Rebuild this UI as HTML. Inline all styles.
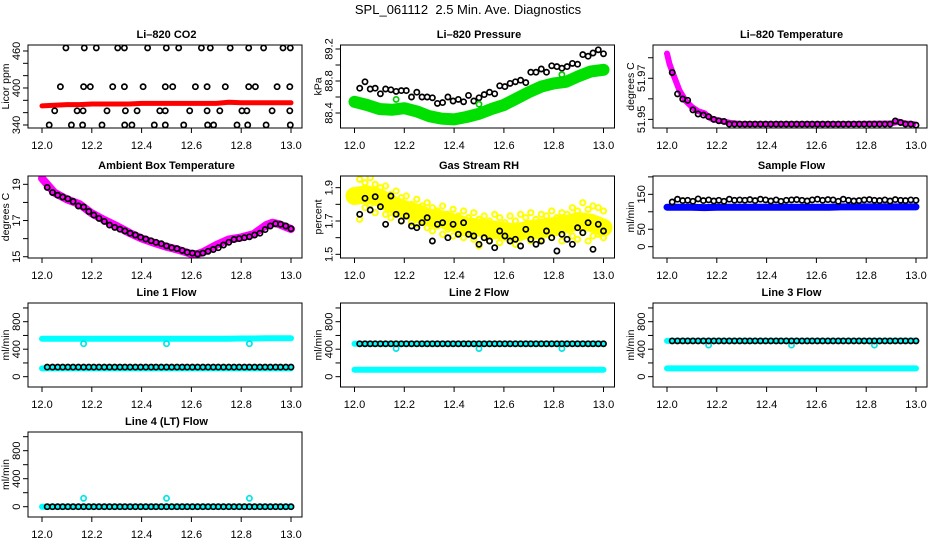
<!DOCTYPE html>
<html><head><meta charset="utf-8"><style>
html,body{margin:0;padding:0;background:#fff;}
svg text{font-family:"Liberation Sans",sans-serif;}
</style></head><body>
<svg id="chart" width="936" height="540" viewBox="0 0 936 540" xmlns="http://www.w3.org/2000/svg">
<rect width="936" height="540" fill="#fff"/>
<text x="468" y="14" font-size="13" text-anchor="middle" style="white-space:pre">SPL_061112  2.5 Min. Ave. Diagnostics</text>
</svg>
<script>
// shared time categories
const T = [12.021,12.042,12.063,12.083,12.104,12.125,12.146,12.167,12.188,12.208,12.229,12.25,12.271,12.292,12.313,12.333,12.354,12.375,12.396,12.417,12.438,12.458,12.479,12.5,12.521,12.542,12.563,12.583,12.604,12.625,12.646,12.667,12.688,12.708,12.729,12.75,12.771,12.792,12.813,12.833,12.854,12.875,12.896,12.917,12.938,12.958,12.979,13.0];
const TB = [12.0,12.05,12.1,12.15,12.2,12.25,12.3,12.35,12.4,12.45,12.5,12.55,12.6,12.65,12.7,12.75,12.8,12.85,12.9,12.95,13.0];
const xTicks = [12.0,12.2,12.4,12.6,12.8,13.0];
const xTickLabels = ["12.0","12.2","12.4","12.6","12.8","13.0"];
const outT = [12.167,12.5,12.833];

// CO2
const co2T = [12.096,12.17,12.218,12.304,12.331,12.424,12.499,12.549,12.64,12.676,12.756,12.83,12.89,12.968,12.997,
12.074,12.167,12.194,12.284,12.331,12.406,12.495,12.525,12.616,12.663,12.736,12.83,12.857,12.944,12.995,
12.051,12.141,12.165,12.261,12.335,12.382,12.473,12.495,12.593,12.663,12.714,12.803,12.823,12.924,12.995,
12.029,12.118,12.163,12.241,12.332,12.361,12.451,12.495,12.569,12.665,12.689,12.783,12.826,12.9,12.997];
const co2V = [465,465,465,465,465,465,465,465,465,465,465,465,465,465,465,
402,402,402,402,402,402,402,402,402,402,402,402,402,402,402,
363,363,363,363,363,363,363,363,363,363,363,363,363,363,363,
340,340,340,340,340,340,340,340,340,340,340,340,340,340,340];
const co2Red = [371,372,373,373,374,374,374,374,375,375,375,375,375,375,375,377,376,376,376,376,376];

// Pressure
const presGreen = [88.54,88.50,88.45,88.44,88.46,88.42,88.36,88.33,88.32,88.35,88.39,88.45,88.50,88.58,88.66,88.73,88.77,88.79,88.86,88.92,88.94];
const presBlack = [88.71,88.79,88.70,88.71,88.64,88.70,88.69,88.67,88.68,88.68,88.6,88.66,88.6,88.6,88.59,88.52,88.53,88.6,88.55,88.57,88.54,88.62,88.55,88.59,88.63,88.66,88.64,88.74,88.73,88.77,88.79,88.81,88.78,88.91,88.91,88.95,88.91,88.99,88.98,88.96,88.98,89.02,89.01,89.13,89.11,89.15,89.19,89.14];
const presOut = [88.57,88.51,88.88];

// Li-820 temperature
const tempMT = [12.0,12.01,12.025,12.05,12.075,12.1,12.125,12.15,12.175,12.2,12.25,12.3,12.5,12.7,12.9,12.93,12.96,12.99];
const tempMV = [51.982,51.977,51.972,51.964,51.959,51.956,51.954,51.953,51.9505,51.9497,51.9484,51.9477,51.9477,51.9477,51.948,51.9489,51.948,51.9477];
const tempBlack = [51.9728,51.9624,51.9599,51.9593,51.9546,51.9526,51.9521,51.9513,51.95,51.9493,51.949,51.9477,51.9477,51.9477,51.9477,51.9477,51.9477,51.9477,51.9477,51.9477,51.9477,51.9477,51.9477,51.9477,51.9477,51.9477,51.9477,51.9477,51.9477,51.9477,51.9477,51.9477,51.9477,51.9477,51.9477,51.9477,51.9477,51.9477,51.9477,51.9477,51.9477,51.9477,51.9477,51.9492,51.9485,51.9477,51.9477,51.9472];

// Ambient
const ambT = [12.0,12.05,12.1,12.15,12.2,12.25,12.3,12.35,12.4,12.45,12.5,12.55,12.6,12.625,12.65,12.7,12.75,12.8,12.85,12.9,12.925,12.95,13.0];
const ambV = [19.33,18.54,18.17,17.91,17.4,17.03,16.7,16.33,16.01,15.77,15.55,15.37,15.15,15.15,15.28,15.65,15.96,16.07,16.25,16.75,16.88,16.81,16.53];
const ambBlack = [18.83,18.55,18.4,18.3,18.2,18.05,17.8,17.75,17.5,17.3,17.12,16.95,16.75,16.62,16.52,16.42,16.3,16.2,16.08,15.98,15.88,15.8,15.72,15.6,15.5,15.45,15.35,15.25,15.2,15.15,15.2,15.3,15.4,15.5,15.65,15.8,15.95,16.0,16.05,16.1,16.2,16.3,16.5,16.7,16.82,16.8,16.7,16.55];

// RH
const rhYellow = [1.85,1.86,1.84,1.80,1.77,1.75,1.72,1.71,1.69,1.67,1.66,1.65,1.64,1.63,1.65,1.66,1.67,1.68,1.70,1.69,1.66];
const rhYellowHi = [1.95,1.93,1.96,1.92,1.90,1.91,1.86,1.88,1.84,1.85,1.80,1.83,1.79,1.81,1.78,1.76,1.79,1.74,1.77,1.73,1.76,1.72,1.75,1.71,1.73,1.70,1.74,1.72,1.69,1.73,1.70,1.74,1.72,1.75,1.71,1.74,1.73,1.76,1.72,1.75,1.74,1.78,1.76,1.81,1.77,1.79,1.78,1.76];
const rhYellowLo = [1.71,1.78,1.80,1.75,1.79,1.74,1.72,1.76,1.70,1.73,1.69,1.68,1.70,1.66,1.64,1.67,1.62,1.65,1.61,1.63,1.60,1.64,1.59,1.55,1.60,1.58,1.61,1.57,1.60,1.58,1.56,1.60,1.62,1.58,1.61,1.59,1.62,1.60,1.63,1.58,1.62,1.61,1.59,1.63,1.58,1.61,1.62,1.60];
const rhBlack = [1.74,1.836,1.766,1.846,1.786,1.68,1.85,1.74,1.70,1.73,1.67,1.66,1.69,1.72,1.58,1.68,1.69,1.60,1.68,1.62,1.69,1.62,1.61,1.56,1.60,1.58,1.54,1.64,1.61,1.58,1.59,1.55,1.65,1.59,1.56,1.58,1.64,1.60,1.52,1.62,1.59,1.56,1.66,1.63,1.69,1.53,1.68,1.64];

// Sample flow
const sfBlue = [113,113,113,112,113,113,113,113,113,113,113,113,113,113,114,114,114,114,114,114,114];
const sfBlack = [128,136,132,133,130,137,132,134,131,133,130,136,133,134,133,135,132,136,134,131,134,130,133,134,135,133,131,134,136,133,135,134,130,136,133,131,132,134,135,133,132,134,131,135,133,132,134,133];

// Line flows
const l1Hi = [552,552,552,552,552,552,552,552,552,552,552,552,552,552,552,552,555,555,558,558,558];
const l1Lo = [120,120,120,120,120,120,120,120,120,120,120,120,120,120,120,120,120,120,120,120,120];
const l1Black = [140,140,140,140,140,140,140,140,140,140,140,140,140,140,140,140,140,140,140,140,140,140,140,140,140,140,140,140,140,140,140,140,140,140,140,140,140,140,140,140,140,140,140,140,140,140,140,140];
const l1Out = [480,480,480];
const l2Hi = [478,478,478,478,478,478,478,478,478,478,478,478,478,478,478,478,478,478,478,478,478];
const l2Lo = [100,100,100,100,100,100,100,100,100,100,100,100,100,100,100,100,100,100,100,100,100];
const l2Black = [478,478,478,478,478,478,478,478,478,478,478,478,478,478,478,478,478,478,478,478,478,478,478,478,478,478,478,478,478,478,478,478,478,478,478,478,478,478,478,478,478,478,478,478,478,478,478,478];
const l2Out = [410,410,410];
const l3Hi = [520,520,520,520,520,520,520,520,520,520,520,520,520,520,520,520,520,520,522,522,522];
const l3Lo = [120,120,120,120,120,120,120,120,120,120,120,120,120,120,120,120,120,120,120,120,120];
const l3Black = [520,520,520,520,520,520,520,520,520,520,520,520,520,520,520,520,520,520,520,520,520,520,520,520,520,520,520,520,520,520,520,520,520,520,520,520,520,520,520,520,520,520,520,520,520,520,520,520];
const l3Out = [460,460,460];
const l4Band = [0,0,0,0,0,0,0,0,0,0,0,0,0,0,0,0,0,0,0,0,0];
const l4Black = [0,0,0,0,0,0,0,0,0,0,0,0,0,0,0,0,0,0,0,0,0,0,0,0,0,0,0,0,0,0,0,0,0,0,0,0,0,0,0,0,0,0,0,0,0,0,0,0];
const l4Out = [120,120,120];

const svg = document.getElementById('chart');
const NS = 'http://www.w3.org/2000/svg';
function mk(tag, attrs, parent){
  const e = document.createElementNS(NS, tag);
  for (const k in attrs) e.setAttribute(k, attrs[k]);
  (parent||svg).appendChild(e);
  return e;
}
const rowTop = [45,176,303,432], rowBot = [128,258,387,517];

function panel(col,row,name,title,ylab,ymin,ymax,yticks,ylabels,series){
  const g = mk('g',{});
  
  
  const x0 = 42 + 312.5*col, top = rowTop[row], bot = rowBot[row];
  const X = t => x0 + (t-12)*249;
  const Y = v => bot - (v-ymin)/(ymax-ymin)*(bot-top);
  const left = x0-14, right = x0+260;
  const tt = mk('text',{x:x0+124.5,y:top-7,'font-size':11,'font-weight':'bold','text-anchor':'middle'},g);
  tt.textContent = title;
  
  
  const clipId = 'c'+col+'_'+row;
  const cp = mk('clipPath',{id:clipId},g);
  mk('rect',{x:left,y:top,width:right-left,height:bot-top},cp);
  const sg = mk('g',{'clip-path':'url(#'+clipId+')'},g);
  series.forEach(s=>{
    if (s.type==='band'){
      const pts = s.t.map((t,i)=>X(t).toFixed(1)+','+Y(s.v[i]).toFixed(1)).join(' ');
      const pl = mk('polyline',{points:pts,fill:'none',stroke:s.color,'stroke-width':s.w,'stroke-linejoin':'round','stroke-linecap':'round'},sg);
      
      
    } else {
      s.t.forEach((t,i)=>{
        const c = mk('circle',{cx:X(t).toFixed(1),cy:Y(s.v[i]).toFixed(1),r:2.6,fill:'none',stroke:s.color,'stroke-width':s.sw||1.7},sg);
        
        
      });
    }
  });
  const box = mk('rect',{x:left,y:top,width:right-left,height:bot-top,fill:'none',stroke:'#000','stroke-width':1},g);
  
  
  xTicks.forEach((t,i)=>{
    mk('line',{x1:X(t),x2:X(t),y1:bot,y2:bot+5,stroke:'#000'},g);
    const lt = mk('text',{x:X(t),y:bot+21,'font-size':11,'text-anchor':'middle'},g);
    lt.textContent = xTickLabels[i];
    
    
  });
  yticks.forEach((v,i)=>{
    const y = Y(v);
    mk('line',{x1:left-5,x2:left,y1:y,y2:y,stroke:'#000'},g);
    if (ylabels[i]!==''){
      const lt = mk('text',{x:left-8,y:y,'font-size':11,'text-anchor':'middle',transform:'rotate(-90 '+(left-8)+' '+y+')'},g);
      lt.textContent = ylabels[i];
      
      
    }
  });
  const yc = (top+bot)/2, yx = left-19;
  const yt = mk('text',{x:yx,y:yc,'font-size':10.5,'text-anchor':'middle',transform:'rotate(-90 '+yx+' '+yc+')'},g);
  yt.textContent = ylab;
  
  
}

const flowTicks=[0,200,400,600,800,1000], flowLabels=['0','','400','','800',''];
panel(0,0,'co2-panel','Li\u2013820 CO2','Licor ppm',335.1,469.7,[340,360,380,400,420,440,460],['340','','','400','','','460'],[
  {type:'band',t:TB,v:co2Red,color:'#ff0000',w:5,name:'co2-red-series'},
  {type:'pts',t:co2T,v:co2V,color:'#000',name:'co2-black-point'}]);
panel(1,0,'pressure-panel','Li\u2013820 Pressure','kPa',88.2125,89.25,[88.4,88.6,88.8,89.0,89.2],['88.4','','88.8','','89.2'],[
  {type:'band',t:TB,v:presGreen,color:'#00e000',w:12,name:'pressure-green-series'},
  {type:'pts',t:T,v:presBlack,color:'#000',name:'pressure-black-point'},
  {type:'pts',t:outT,v:presOut,color:'#00cc00',name:'pressure-green-outlier'}]);
panel(2,0,'temperature-panel','Li\u2013820 Temperature','degrees C',51.9458,51.9862,[51.95,51.96,51.97,51.98],['51.95','','51.97',''],[
  {type:'band',t:tempMT,v:tempMV,color:'#ff00ff',w:6,name:'temp-magenta-series'},
  {type:'pts',t:T,v:tempBlack,color:'#000',name:'temp-black-point'}]);
panel(0,1,'ambient-panel','Ambient Box Temperature','degrees C',14.93,19.46,[15,16,17,18,19],['15','','17','','19'],[
  {type:'band',t:ambT,v:ambV,color:'#ff00ff',w:8,name:'ambient-magenta-series'},
  {type:'pts',t:T,v:ambBlack,color:'#000',name:'ambient-black-point'}]);
panel(1,1,'rh-panel','Gas Stream RH','percent',1.478,1.97,[1.5,1.6,1.7,1.8,1.9],['1.5','','1.7','','1.9'],[
  {type:'band',t:TB,v:rhYellow,color:'#ffff00',w:18,name:'rh-yellow-series'},
  {type:'pts',t:T,v:rhYellowHi,color:'#ffff00',sw:2,name:'rh-yellow-point'},
  {type:'pts',t:T,v:rhYellowLo,color:'#ffff00',sw:2,name:'rh-yellow-point'},
  {type:'pts',t:T,v:rhBlack,color:'#000',name:'rh-black-point'}]);
panel(2,1,'sample-flow-panel','Sample Flow','ml/min',-32.4,202.5,[0,50,100,150,200],['0','50','','150',''],[
  {type:'band',t:TB,v:sfBlue,color:'#0000ff',w:7,name:'sample-blue-series'},
  {type:'pts',t:T,v:sfBlack,color:'#000',name:'sample-black-point'}]);
panel(0,2,'line1-panel','Line 1 Flow','ml/min',-150,1072,flowTicks,flowLabels,[
  {type:'band',t:TB,v:l1Hi,color:'#00ffff',w:6,name:'line1-cyan-high'},
  {type:'band',t:TB,v:l1Lo,color:'#00ffff',w:6,name:'line1-cyan-low'},
  {type:'pts',t:outT,v:l1Out,color:'#00e5e5',name:'line1-cyan-outlier'},
  {type:'pts',t:T,v:l1Black,color:'#000',name:'line1-black-point'}]);
panel(1,2,'line2-panel','Line 2 Flow','ml/min',-150,1072,flowTicks,flowLabels,[
  {type:'band',t:TB,v:l2Hi,color:'#00ffff',w:6,name:'line2-cyan-high'},
  {type:'band',t:TB,v:l2Lo,color:'#00ffff',w:6,name:'line2-cyan-low'},
  {type:'pts',t:outT,v:l2Out,color:'#00e5e5',name:'line2-cyan-outlier'},
  {type:'pts',t:T,v:l2Black,color:'#000',name:'line2-black-point'}]);
panel(2,2,'line3-panel','Line 3 Flow','ml/min',-150,1072,flowTicks,flowLabels,[
  {type:'band',t:TB,v:l3Hi,color:'#00ffff',w:6,name:'line3-cyan-high'},
  {type:'band',t:TB,v:l3Lo,color:'#00ffff',w:6,name:'line3-cyan-low'},
  {type:'pts',t:outT,v:l3Out,color:'#00e5e5',name:'line3-cyan-outlier'},
  {type:'pts',t:T,v:l3Black,color:'#000',name:'line3-black-point'}]);
panel(0,3,'line4-panel','Line 4 (LT) Flow','ml/min',-147,1067,flowTicks,flowLabels,[
  {type:'band',t:TB,v:l4Band,color:'#00ffff',w:6,name:'line4-cyan-series'},
  {type:'pts',t:outT,v:l4Out,color:'#00e5e5',name:'line4-cyan-outlier'},
  {type:'pts',t:T,v:l4Black,color:'#000',name:'line4-black-point'}]);
</script>
</body></html>
